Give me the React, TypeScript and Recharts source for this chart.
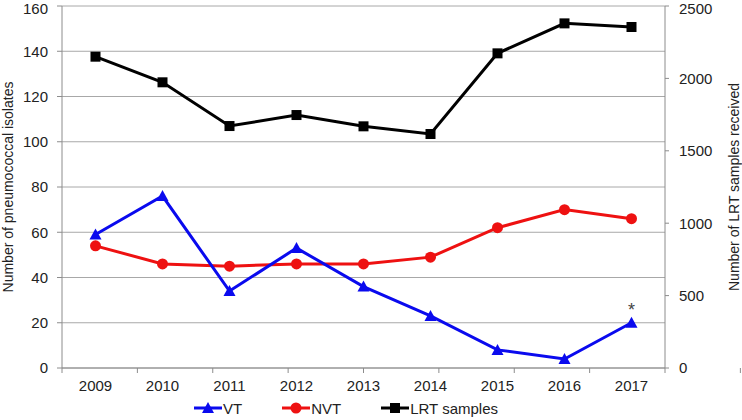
import React from "react";
import {
  CartesianGrid,
  LabelList,
  Legend,
  Line,
  LineChart,
  XAxis,
  YAxis,
} from "recharts";

const years = ["2009", "2010", "2011", "2012", "2013", "2014", "2015", "2016", "2017"];
const vtIsolates = [59, 76, 34, 53, 36, 23, 8, 4, 20];
const nvtIsolates = [54, 46, 45, 46, 46, 49, 62, 70, 66];
const lrtSamples = [2150, 1973, 1671, 1747, 1669, 1616, 2173, 2380, 2355];
const vtNotes = ["", "", "", "", "", "", "", "", "*"];

const leftTicks = [0, 20, 40, 60, 80, 100, 120, 140, 160];
const rightTicks = [0, 500, 1000, 1500, 2000, 2500];
const boundaryTicks = [0, 1, 2, 3, 4, 5, 6, 7, 8, 9];

const BLUE = "#0a0aee";
const RED = "#ee1111";
const BLACK = "#000000";
const FONT = "Liberation Sans, Arial, sans-serif";
const TEXT = "#222222";
const AXIS = "#8c8c8c";

const data = years.map((year, i) => ({
  year,
  vt: vtIsolates[i],
  nvt: nvtIsolates[i],
  lrt: lrtSamples[i],
  note: vtNotes[i],
}));

const Triangle = ({ cx, cy, fill }: any) => (
  <polygon points={`${cx},${cy - 6} ${cx - 6},${cy + 5} ${cx + 6},${cy + 5}`} fill={fill} />
);
const Circle = ({ cx, cy, fill }: any) => <circle cx={cx} cy={cy} r={5.5} fill={fill} />;
const Square = ({ cx, cy, fill }: any) => (
  <rect x={cx - 5} y={cy - 5} width={10} height={10} fill={fill} />
);

function AxisTitle({ viewBox, value, side }: any) {
  const { x, y, width, height } = viewBox;
  const cx = side === "left" ? x + 8 : x + width - 8;
  const cy = y + height / 2;
  return (
    <text
      x={cx}
      y={cy}
      transform={`rotate(-90 ${cx} ${cy})`}
      textAnchor="middle"
      dominantBaseline="central"
      fontSize={14}
      fontFamily={FONT}
      fill={TEXT}
    >
      {value}
    </text>
  );
}

const legendItems = [
  { name: "VT", color: BLUE, marker: "triangle" },
  { name: "NVT", color: RED, marker: "circle" },
  { name: "LRT samples", color: BLACK, marker: "square" },
];

function LegendContent() {
  return (
    <div
      style={{
        display: "flex",
        justifyContent: "center",
        gap: 40,
        paddingRight: 50,
        fontFamily: FONT,
        fontSize: 15,
        color: TEXT,
        height: 24,
        alignItems: "center",
      }}
    >
      {legendItems.map((item) => (
        <div key={item.name} style={{ display: "flex", alignItems: "center" }}>
          <svg width={28} height={14}>
            <line x1={0} y1={7} x2={28} y2={7} stroke={item.color} strokeWidth={3} />
            {item.marker === "triangle" && <Triangle cx={14} cy={7} fill={item.color} />}
            {item.marker === "circle" && <Circle cx={14} cy={7} fill={item.color} />}
            {item.marker === "square" && <Square cx={14} cy={7} fill={item.color} />}
          </svg>
          <span style={{ marginLeft: 1 }}>{item.name}</span>
        </div>
      ))}
    </div>
  );
}

export default function App() {
  return (
    <div style={{ position: "absolute", left: 0, top: 0 }}>
      <LineChart
        width={742}
        height={420}
        data={data}
        margin={{ top: 6, right: 0, left: 0, bottom: 0 }}
      >
        <CartesianGrid xAxisId="cat" yAxisId="left" vertical={false} stroke="#a8a8a8" strokeWidth={1} />
        {/* boundary tick marks between years; must come before the label axis */}
        <XAxis
          xAxisId="bounds"
          type="number"
          domain={[0, 9]}
          ticks={boundaryTicks}
          tickFormatter={() => ""}
          axisLine={{ stroke: AXIS }}
          tickLine={{ stroke: AXIS }}
          tickSize={5}
          height={1}
        />
        <XAxis
          xAxisId="cat"
          dataKey="year"
          padding={{ left: 33.5, right: 33.5 }}
          axisLine={false}
          tickLine={false}
          tickSize={4}
          tickMargin={7}
          height={27}
          tick={{ fontSize: 15, fontFamily: FONT, fill: TEXT }}
        />
        <YAxis
          yAxisId="left"
          domain={[0, 160]}
          ticks={leftTicks}
          width={62}
          axisLine={{ stroke: AXIS }}
          tickLine={{ stroke: AXIS }}
          tickSize={5}
          tickMargin={9}
          tick={{ fontSize: 15, fontFamily: FONT, fill: TEXT }}
          label={<AxisTitle value="Number of pneumococcal isolates" side="left" />}
        />
        <YAxis
          yAxisId="right"
          orientation="right"
          domain={[0, 2500]}
          ticks={rightTicks}
          width={77}
          axisLine={{ stroke: AXIS }}
          tickLine={{ stroke: AXIS }}
          tickSize={4}
          tickMargin={10}
          tick={{ fontSize: 15, fontFamily: FONT, fill: TEXT }}
          label={<AxisTitle value="Number of LRT samples received" side="right" />}
        />
        <Legend verticalAlign="bottom" height={24} content={<LegendContent />} />
        <Line
          xAxisId="cat"
          yAxisId="right"
          dataKey="lrt"
          name="LRT samples"
          stroke={BLACK}
          strokeWidth={3}
          dot={<Square fill={BLACK} />}
          activeDot={false}
          isAnimationActive={false}
        />
        <Line
          xAxisId="cat"
          yAxisId="left"
          dataKey="nvt"
          name="NVT"
          stroke={RED}
          strokeWidth={3}
          dot={<Circle fill={RED} />}
          activeDot={false}
          isAnimationActive={false}
        />
        <Line
          xAxisId="cat"
          yAxisId="left"
          dataKey="vt"
          name="VT"
          stroke={BLUE}
          strokeWidth={3}
          dot={<Triangle fill={BLUE} />}
          activeDot={false}
          isAnimationActive={false}
        >
          <LabelList
            dataKey="note"
            position="top"
            offset={7}
            fontSize={18}
            fontFamily={FONT}
            fill="#444444"
          />
        </Line>
      </LineChart>
    </div>
  );
}
